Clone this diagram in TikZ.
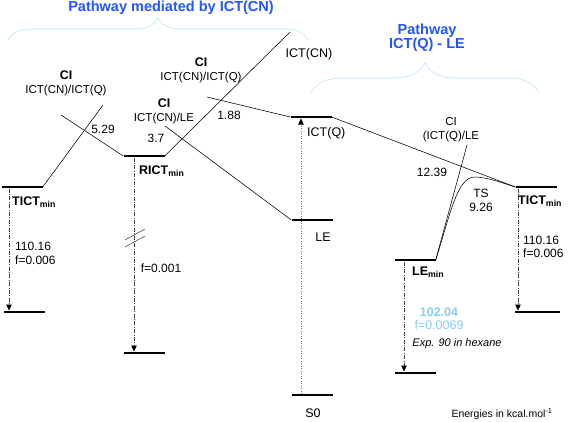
\documentclass[tikz,border=0pt]{standalone}
\usepackage{fontspec}
\setmainfont{Liberation Sans}
\usepackage{xcolor}
\usepackage{tikz}
\usetikzlibrary{arrows.meta,positioning,calc,decorations.pathreplacing}
\definecolor{titleblue}{RGB}{35,85,250}
\definecolor{braceblue}{RGB}{185,228,245}
\definecolor{valblue}{RGB}{135,205,245}

\begin{document}
\begin{tikzpicture}[x=1pt,y=-1pt,
  every node/.style={font=\fontsize{12}{14}\selectfont,inner sep=0pt},
  level/.style={fill=black,minimum width=41pt,minimum height=2.6pt},
  link/.style={line width=0.55pt},
  emit/.style={line width=0.5pt,black!75,dash pattern=on 4pt off 1.5pt on 0.8pt off 1.5pt,
    -{Triangle[length=6pt,width=5.5pt,black]}},
  excite/.style={line width=0.5pt,black!55,dotted,-{Triangle[length=6pt,width=5.5pt,black]}},
  cilbl/.style={align=center,font=\fontsize{11.5}{14}\selectfont},
  hdr/.style={align=center,text=titleblue,font=\bfseries\fontsize{14.5}{14}\selectfont},
  bracket/.style={decorate,decoration={brace,amplitude=#1},draw=braceblue,line width=0.6pt}]
  \useasboundingbox (0,0) rectangle (568,421);

  % headers and braces
  \node[hdr] (hdrcn) at (171,8) {Pathway mediated by ICT(CN)};
  \node[hdr] (hdrq) at (427,38) {Pathway\\ICT(Q) - LE};
  \draw[bracket=22pt] (8,40) -- (308,40);
  \draw[bracket=30pt] (311,93) -- (539,93);

  % energy levels
  \node[level] (tictL) at (22,187) {};
  \node[level] (tictLlow) at (24,312) {};
  \node[level] (rict) at (144,156) {};
  \node[level] (rictlow) at (144,353) {};
  \node[level] (ictq) at (311,117) {};
  \node[level] (le) at (312,220) {};
  \node[level] (szero) at (312,395) {};
  \node[level] (lemin) at (415,260) {};
  \node[level] (leminlow) at (415,373) {};
  \node[level] (tictR) at (536,187) {};
  \node[level,minimum width=45pt] (tictRlow) at (537,312) {};

  % potential curves
  \coordinate (ciA) at (103,105);
  \coordinate (ciAs) at (61,115);
  \coordinate (cntop) at (290,32);
  \coordinate (ciBs) at (207,97);
  \coordinate (ciCs) at (165,126);
  \coordinate (ciD) at (467,145);
  \coordinate (tspeak) at (474,177);
  \draw[link] (tictL.east) -- (ciA);
  \draw[link] (ciAs) -- (rict.west);
  \draw[link] (rict.east) -- (cntop);
  \draw[link] (ciBs) -- (ictq.west);
  \draw[link] (ictq.east) -- (tictR.west);
  \draw[link] (ciCs) -- (le.west);
  \draw[link] (lemin.east) -- (ciD);
  \draw[link] (lemin.east) .. controls (450,215) and (457,178) .. (tspeak)
    .. controls (486,177) and (500,182) .. (tictR.west);

  % vertical transitions
  \draw[emit] ([xshift=-13pt]tictL.south) -- ([xshift=-13pt]tictL.south |- tictLlow.north);
  \draw[emit] ([xshift=-10pt]rict.south) -- ([xshift=-10pt]rict.south |- rictlow.north);
  \draw[emit] ([xshift=-11pt]lemin.south) -- ([xshift=-11pt]lemin.south |- leminlow.north);
  \draw[emit] ([xshift=-18pt]tictR.south) -- ([xshift=-18pt]tictR.south |- tictRlow.north);
  \draw[excite] ([xshift=-11pt]szero.north) -- ([xshift=-11pt]szero.north |- ictq.south);
  \coordinate (brk) at (135,238);
  \draw[link,black!75] ($(brk)+(-10,2)$) -- ($(brk)+(10,-9)$);
  \draw[link,black!75] ($(brk)+(-10,9)$) -- ($(brk)+(10,-2)$);

  % labels
  \node[cilbl] (ciAlbl) at (66,83) {\textbf{\fontsize{12.5}{14}\selectfont CI}\\ICT(CN)/ICT(Q)};
  \node[cilbl] (ciBlbl) at (201,70) {\textbf{\fontsize{12.5}{14}\selectfont CI}\\ICT(CN)/ICT(Q)};
  \node[cilbl] (ciClbl) at (164,111) {\textbf{\fontsize{12.5}{14}\selectfont CI}\\ICT(CN)/LE};
  \node[cilbl] (ciDlbl) at (451,130) {CI\\(ICT(Q)/LE};
  \node (eA) at (103,129) {5.29};
  \node (eC) at (156,138) {3.7};
  \node (eB) at (229,115) {1.88};
  \node (eD) at (432,172) {12.39};
  \node[align=center] (tslbl) at (481,200) {TS\\9.26};
  \node[font=\fontsize{12.5}{14}\selectfont] (cnlbl) at (309,54) {ICT(CN)};
  \node[font=\fontsize{12.5}{14}\selectfont,anchor=west] (ictqlbl) at (307,133) {ICT(Q)};
  \node[font=\fontsize{12.5}{14}\selectfont] (lelbl) at (323,237) {LE};
  \node[font=\fontsize{12.5}{14}\selectfont] (s0lbl) at (313,413) {S0};
  \node[anchor=west,font=\bfseries\fontsize{12.5}{14}\selectfont] (tictLlbl) at (12,202) {TICT\textsubscript{min}};
  \node[anchor=west,font=\bfseries\fontsize{12.5}{14}\selectfont] (rictlbl) at (139,171) {RICT\textsubscript{min}};
  \node[anchor=west,font=\bfseries\fontsize{12.5}{14}\selectfont] (tictRlbl) at (518,201) {TICT\textsubscript{min}};
  \node[anchor=west,font=\bfseries\fontsize{12.5}{14}\selectfont] (leminlbl) at (412,272) {LE\textsubscript{min}};
  \node[anchor=west,align=left,font=\fontsize{12}{13.5}\selectfont] (fA) at (15,253.5) {110.16\\f=0.006};
  \node[anchor=west,align=left,font=\fontsize{12}{13.5}\selectfont] (fB) at (523,247) {110.16\\f=0.006};
  \node (fC) at (161,268) {f=0.001};
  \node[align=center,text=valblue,font=\fontsize{12.5}{13.5}\selectfont] (fD) at (439,318.5) {\textbf{102.04}\\f=0.0069};
  \node[font=\itshape\fontsize{11}{13}\selectfont] (explbl) at (457,344) {Exp. 90 in hexane};
  \node[font=\fontsize{10.5}{12}\selectfont] (units) at (502,414) {Energies in kcal.mol\textsuperscript{-1}};
\end{tikzpicture}
\end{document}
